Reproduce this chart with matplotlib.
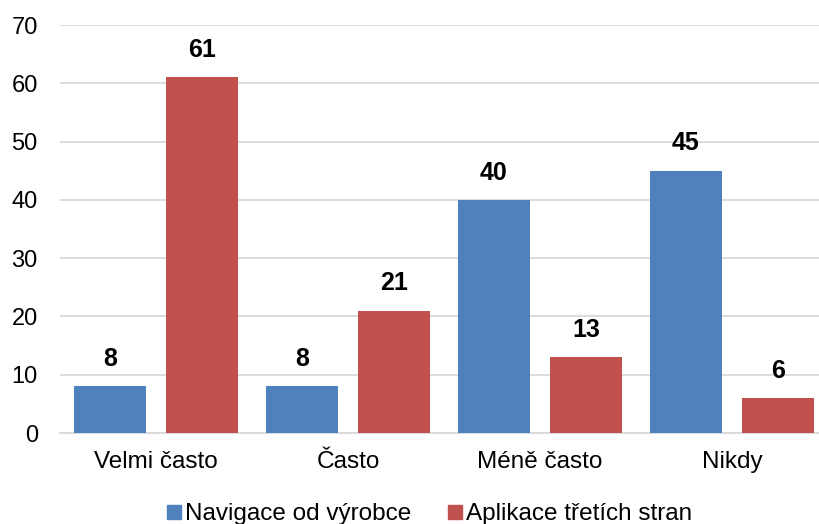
import numpy as np
import matplotlib
matplotlib.use('Agg')
import matplotlib.pyplot as plt
from matplotlib.lines import Line2D

categories = ['Velmi často', 'Často', 'Méně často', 'Nikdy']
navigace = [8, 8, 40, 45]
aplikace = [61, 21, 13, 6]
series_names = ['Navigace od výrobce', 'Aplikace třetích stran']
yticks = [0, 10, 20, 30, 40, 50, 60, 70]

blue = '#4F81BD'
red = '#C0504D'

plt.rcParams['font.family'] = ['Liberation Sans', 'DejaVu Sans']

fig = plt.figure(figsize=(8.19, 5.24), dpi=100)
ax = fig.add_axes([60 / 819, 91 / 524, 759 / 819, 408 / 524])

x = np.arange(len(categories))
w = 0.375
off = 0.24
b1 = ax.bar(x - off, navigace, w, color=blue, zorder=3)
b2 = ax.bar(x + off, aplikace, w, color=red, zorder=3)

# popisky hodnot nad sloupci
for bars, vals in ((b1, navigace), (b2, aplikace)):
    for rect, v in zip(bars, vals):
        ax.annotate(str(v), (rect.get_x() + rect.get_width() / 2, v),
                    xytext=(0, 11), textcoords='offset points',
                    ha='center', va='bottom', fontsize=18, fontweight='bold')

ax.set_xlim(-0.5, -0.5 + 759 / 192)
ax.set_ylim(0, 70)
ax.set_yticks(yticks)
ax.set_xticks(x)
ax.set_xticklabels(categories, fontsize=17.5)
ax.tick_params(axis='y', length=0, labelsize=17)
ax.tick_params(axis='x', length=0, pad=13)
ax.tick_params(axis='y', pad=16)
ax.yaxis.grid(True, color='#D9D9D9', linewidth=1.3, zorder=0)
for s in ['top', 'right', 'left']:
    ax.spines[s].set_visible(False)
ax.spines['bottom'].set_color('#D9D9D9')
ax.spines['bottom'].set_linewidth(1.3)

handles = [Line2D([], [], marker='s', linestyle='none', markersize=10,
                  markerfacecolor=c, markeredgecolor=c) for c in (blue, red)]
fig.legend(handles, series_names, loc='center', bbox_to_anchor=(0.523, 10 / 524),
           ncol=2, frameon=False, fontsize=17.5, handletextpad=0.05,
           columnspacing=1.4, handlelength=0.8)

fig.savefig('out.png', dpi=100)
